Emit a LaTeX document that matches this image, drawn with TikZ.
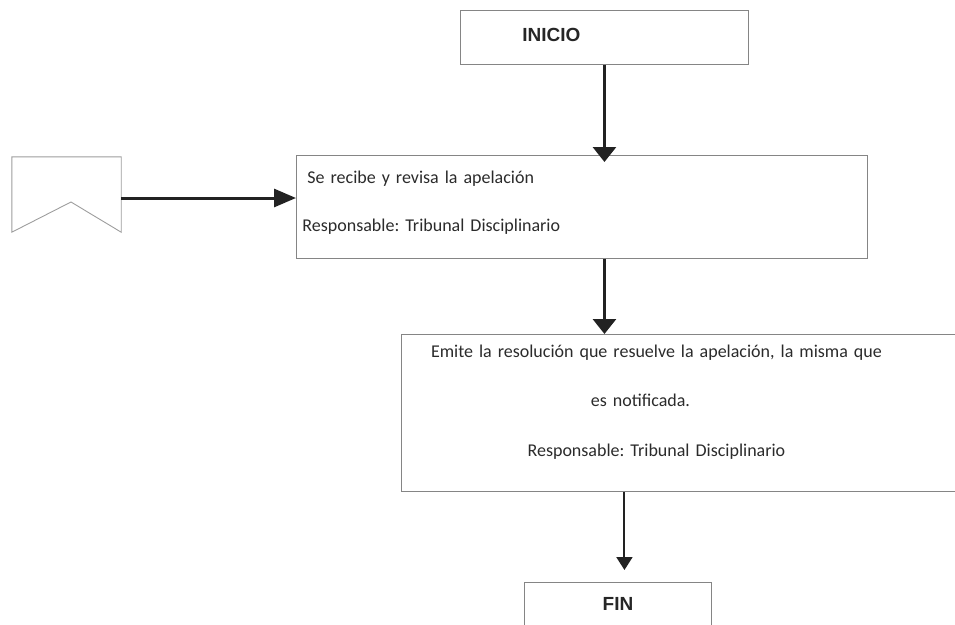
\documentclass[tikz,border=0pt]{standalone}
\usepackage{fontspec}
\setmainfont{Carlito}
\newfontfamily\arialfont{Liberation Sans}
\usetikzlibrary{arrows.meta,positioning}
\frenchspacing

\definecolor{borde}{HTML}{858585}
\definecolor{tinta}{HTML}{2B2B2B}
\definecolor{flechagris}{HTML}{222222}

\begin{document}
\begin{tikzpicture}[x=1pt, y=-1pt,
    caja/.style={rectangle, draw=borde, line width=0.9pt, inner ysep=0pt, text=tinta},
    titulo/.style={font=\arialfont\bfseries\fontsize{19}{23}\selectfont, text=black!85},
    texto/.style={font=\fontsize{18}{48}\selectfont},
    flecha/.style={draw=flechagris, line width=3pt, -{Triangle[length=15pt,width=23pt]}},
    flechafina/.style={draw=flechagris, line width=2pt, -{Triangle[length=13pt,width=16pt]}}]
    \clip (0,0) rectangle (955,624);

    % Start and end boxes
    \node[caja, titulo, anchor=north west, inner xsep=62pt, text width=164pt, align=left,
          text height=31pt, text depth=23pt] (inicio) at (460,10) {INICIO};
    \node[caja, titulo, anchor=north west, inner xsep=0pt, text width=187pt, align=center,
          text height=28pt, text depth=26pt] (fin) at (524,582) {FIN};

    % Process boxes
    \node[caja, texto, anchor=north west, inner xsep=6pt, text width=559pt, align=left,
          text height=28pt, text depth=75pt] (recibe) at (296,155)
          {\hspace*{5pt}Se recibe y revisa la apelación\\Responsable: Tribunal Disciplinario};
    \node[caja, texto, font=\fontsize{18}{49.5}\selectfont, anchor=north west, inner xsep=0pt,
          text width=559pt, align=center, text height=23pt, text depth=134pt] (emite) at (401,334)
          {\hspace*{-49pt}Emite la resolución que resuelve la apelación, la misma que\\
           \hspace*{-81pt}es notificada.\\
           \hspace*{-49pt}Responsable: Tribunal Disciplinario};

    % Off-page connector on the left
    \node[minimum width=109pt, minimum height=75pt, inner sep=0pt] (conector) at (66.5,194.5) {};
    \draw[draw=borde!80, line width=0.9pt] (conector.south west) -- (conector.north west)
        -- (conector.north east) -- (conector.south east)
        -- ([xshift=4.5pt,yshift=-7.5pt]conector.center) -- cycle;

    % Connection arrows
    \draw[flecha, -{Triangle[length=22pt,width=18pt]}] ([yshift=-3.5pt]conector.east)
        -- ([yshift=-3.5pt]conector.east -| recibe.west);
    \draw[flecha, shorten >=-7pt] (inicio.south) -- (inicio.south |- recibe.north);
    \draw[flecha] (inicio.south |- recibe.south) -- (inicio.south |- emite.north);
    \draw[flechafina, shorten >=12pt] ([xshift=6.5pt]fin.north |- emite.south)
        -- ([xshift=6.5pt]fin.north);
\end{tikzpicture}
\end{document}
